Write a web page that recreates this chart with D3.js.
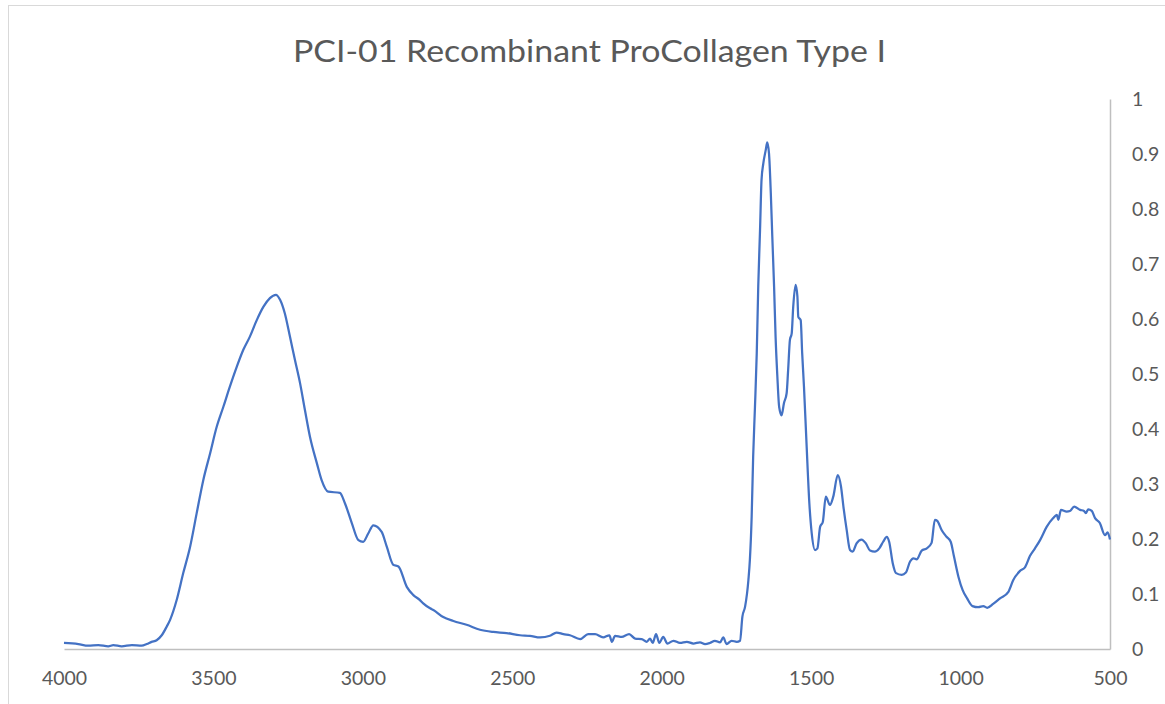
<!DOCTYPE html>
<html>
<head>
<meta charset="utf-8">
<script src="https://cdn.jsdelivr.net/npm/d3@7"></script>
<style>
  html, body { margin: 0; padding: 0; background: #fff; }
  svg { display: block; }
</style>
</head>
<body>
<div id="chart"></div>
<script>
const title = "PCI-01 Recombinant ProCollagen Type I";

const wavenumbers = [
  4000, 3952, 3919, 3885, 3852, 3835, 3807, 3773, 3740, 3723, 3707, 3690, 3673, 3656, 3645,
  3623, 3601, 3578, 3556, 3534, 3511, 3489, 3467, 3445, 3422, 3400, 3378, 3355, 3333, 3311,
  3291, 3277, 3261, 3244, 3227, 3210, 3194, 3177, 3154, 3138, 3116, 3077, 3060, 3037, 3015,
  2999, 2982, 2965, 2937, 2920, 2898, 2881, 2853, 2831, 2809, 2798, 2775, 2764, 2731, 2697,
  2653, 2608, 2564, 2519, 2474, 2441, 2407, 2374, 2352, 2329, 2307, 2273, 2246, 2223, 2196,
  2175, 2167, 2156, 2134, 2109, 2089, 2067, 2050, 2039, 2030, 2019, 2008, 1995, 1981, 1961,
  1939, 1916, 1894, 1872, 1855, 1839, 1822, 1805, 1794, 1783, 1766, 1749, 1738, 1730, 1721,
  1710, 1705, 1699, 1694, 1688, 1682, 1677, 1671, 1666, 1660, 1652, 1647, 1641, 1635, 1630,
  1624, 1619, 1613, 1607, 1599, 1591, 1582, 1577, 1571, 1565, 1560, 1552, 1546, 1543, 1535,
  1530, 1524, 1515, 1506, 1498, 1487, 1479, 1470, 1461, 1451, 1437, 1426, 1411, 1400, 1392,
  1381, 1370, 1361, 1348, 1331, 1317, 1303, 1287, 1272, 1259, 1247, 1239, 1227, 1216, 1197,
  1183, 1169, 1158, 1147, 1130, 1113, 1097, 1086, 1078, 1063, 1047, 1033, 1022, 1007, 993,
  978, 960, 941, 924, 911, 891, 868, 840, 824, 801, 784, 768, 751, 734, 712,
  690, 678, 673, 664, 645, 634, 620, 600, 587, 581, 573, 561, 550, 534, 517,
  508, 500
];

const absorbance = [
  0.011, 0.009, 0.006, 0.007, 0.005, 0.007, 0.005, 0.007, 0.006, 0.009, 0.013, 0.016, 0.025, 0.041, 0.053,
  0.089, 0.138, 0.186, 0.247, 0.307, 0.356, 0.404, 0.440, 0.477, 0.513, 0.544, 0.568, 0.598, 0.622, 0.638,
  0.644, 0.635, 0.610, 0.568, 0.525, 0.483, 0.435, 0.386, 0.338, 0.307, 0.286, 0.284, 0.265, 0.229, 0.198,
  0.195, 0.210, 0.225, 0.213, 0.186, 0.153, 0.150, 0.113, 0.098, 0.089, 0.083, 0.074, 0.071, 0.058, 0.051,
  0.044, 0.035, 0.031, 0.029, 0.025, 0.024, 0.021, 0.024, 0.030, 0.027, 0.025, 0.018, 0.027, 0.027, 0.021,
  0.025, 0.013, 0.024, 0.022, 0.027, 0.019, 0.018, 0.013, 0.019, 0.011, 0.027, 0.011, 0.022, 0.010, 0.015,
  0.011, 0.013, 0.010, 0.012, 0.009, 0.011, 0.015, 0.012, 0.021, 0.009, 0.015, 0.013, 0.015, 0.059, 0.077,
  0.125, 0.162, 0.241, 0.350, 0.440, 0.538, 0.659, 0.762, 0.853, 0.883, 0.907, 0.921, 0.901, 0.829, 0.750,
  0.659, 0.568, 0.495, 0.440, 0.425, 0.447, 0.465, 0.507, 0.562, 0.574, 0.622, 0.662, 0.641, 0.604, 0.598,
  0.538, 0.477, 0.368, 0.265, 0.210, 0.180, 0.183, 0.222, 0.231, 0.277, 0.262, 0.277, 0.316, 0.295, 0.259,
  0.216, 0.180, 0.177, 0.192, 0.199, 0.192, 0.179, 0.177, 0.183, 0.195, 0.204, 0.195, 0.156, 0.138, 0.135,
  0.139, 0.159, 0.165, 0.163, 0.179, 0.183, 0.193, 0.235, 0.233, 0.216, 0.204, 0.195, 0.168, 0.131, 0.107,
  0.092, 0.078, 0.076, 0.078, 0.075, 0.082, 0.092, 0.104, 0.125, 0.142, 0.149, 0.169, 0.183, 0.198, 0.222,
  0.238, 0.244, 0.235, 0.253, 0.250, 0.251, 0.259, 0.253, 0.251, 0.247, 0.254, 0.251, 0.238, 0.229, 0.207,
  0.212, 0.199
];

const xTicks = [4000, 3500, 3000, 2500, 2000, 1500, 1000, 500];
const yTicks = [0, 0.1, 0.2, 0.3, 0.4, 0.5, 0.6, 0.7, 0.8, 0.9, 1];

const W = 1165, H = 704;
const plot = { left: 64, right: 1110, top: 99, bottom: 649 };
const textColor = "#595959";
const axisColor = "#bfbfbf";
const lineColor = "#4472C4";
const fontFamily = "Lato, 'Open Sans', sans-serif";

const data = wavenumbers.map((w, i) => ({ w, a: absorbance[i] }));

const svg = d3.select("#chart").append("svg")
  .attr("width", W).attr("height", H);

svg.append("rect").attr("width", W).attr("height", H).attr("fill", "#fff");

// chart area border
svg.append("rect")
  .attr("x", 8.5).attr("y", 5.5)
  .attr("width", W + 20).attr("height", H + 20)
  .attr("fill", "none").attr("stroke", "#d9d9d9").attr("stroke-width", 1);

const x = d3.scaleLinear().domain([4000, 500]).range([plot.left, plot.right]);
const y = d3.scaleLinear().domain([0, 1]).range([plot.bottom, plot.top]);

// x axis (bottom)
const xAxis = svg.append("g")
  .attr("transform", `translate(0,${plot.bottom})`)
  .call(d3.axisBottom(x).tickValues(xTicks).tickSize(0).tickPadding(22).tickFormat(d3.format("d")));
xAxis.select(".domain").attr("stroke", axisColor).attr("stroke-width", 1.5);
xAxis.selectAll("text")
  .attr("fill", textColor)
  .style("font-family", fontFamily)
  .style("font-size", "19.5px");

// y axis (right)
const yAxis = svg.append("g")
  .attr("transform", `translate(${plot.right},0)`)
  .call(d3.axisRight(y).tickValues(yTicks).tickSize(0).tickPadding(22).tickFormat(d => d3.format("")(+d.toFixed(1))));
yAxis.select(".domain").attr("stroke", axisColor).attr("stroke-width", 1.5);
yAxis.selectAll("text")
  .attr("fill", textColor)
  .attr("text-anchor", "start")
  .style("font-family", fontFamily)
  .style("font-size", "19.5px");

// spectrum line
const line = d3.line()
  .x(d => x(d.w))
  .y(d => y(d.a))
  .curve(d3.curveMonotoneX);

svg.append("path")
  .datum(data)
  .attr("fill", "none")
  .attr("stroke", lineColor)
  .attr("stroke-width", 2.25)
  .attr("stroke-linejoin", "round")
  .attr("d", line);

// title
svg.append("text")
  .attr("x", 589.5)
  .attr("y", 62)
  .attr("text-anchor", "middle")
  .attr("fill", textColor)
  .attr("textLength", 593)
  .attr("lengthAdjust", "spacingAndGlyphs")
  .style("font-family", fontFamily)
  .style("font-size", "30.5px")
  .text(title);
</script>
</body>
</html>
